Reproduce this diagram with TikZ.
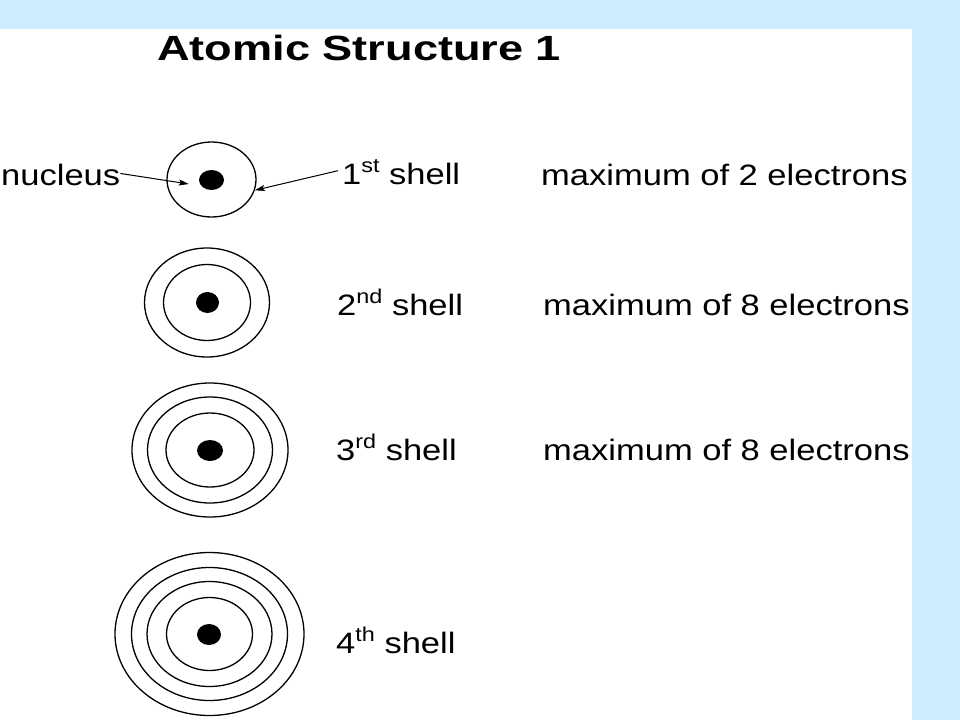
\documentclass[tikz,border=0pt]{standalone}
\usepackage{fontspec}
\usepackage{graphicx}
\setmainfont{Liberation Sans}
\usetikzlibrary{shapes.geometric,arrows.meta}
\definecolor{slideblue}{RGB}{204,236,255}
\newcommand{\bodytxt}[1]{{\fontsize{29.5}{29.5}\selectfont\scalebox{1.17}[1]{#1}}}
\newcommand{\ordsup}[1]{\raisebox{12pt}{\fontsize{20}{20}\selectfont #1}}
\begin{document}
\begin{tikzpicture}[x=1pt,y=-1pt,
  ring/.style={draw=black,ellipse,inner sep=0pt,line width=1.3pt,fill=none},
  nuc/.style={ellipse,fill=black,inner sep=0pt},
  lbl/.style={anchor=base west,inner sep=0pt,text=black},
  pointer/.style={draw=black,line width=1pt,-{Stealth[length=10pt,width=6pt,inset=2pt]}}]
\useasboundingbox (0,0) rectangle (960,720);
\fill[slideblue] (0,0) rectangle (960,720);
\fill[white] (0,29) rectangle (912,720);
% title
\node[lbl] (title) at (157,60.7) {\fontsize{35}{35}\selectfont\bfseries\scalebox{1.29}[1]{Atomic Structure 1}};
% atom 1
\node[ring,minimum width=89pt,minimum height=75pt] (s1) at (211.5,179.5) {};
\node[nuc,minimum width=25pt,minimum height=20pt] (n1) at (211.5,180) {};
% atom 2
\node[ring,minimum width=87pt,minimum height=76pt] (a2r1) at (207,302.5) {};
\node[ring,minimum width=125pt,minimum height=109pt] (a2r2) at (207,302.5) {};
\node[nuc,minimum width=23pt,minimum height=21pt] (n2) at (207.5,302.5) {};
% atom 3
\node[ring,minimum width=88pt,minimum height=74pt] (a3r1) at (210,450) {};
\node[ring,minimum width=125pt,minimum height=106pt] (a3r2) at (210,450) {};
\node[ring,minimum width=156pt,minimum height=134pt] (a3r3) at (210,450) {};
\node[nuc,minimum width=26pt,minimum height=21pt] (n3) at (210,450.5) {};
% atom 4
\node[ring,minimum width=86pt,minimum height=73pt] (a4r1) at (209.5,634) {};
\node[ring,minimum width=125pt,minimum height=105pt] (a4r2) at (209.5,634) {};
\node[ring,minimum width=156pt,minimum height=133pt] (a4r3) at (209.5,634) {};
\node[ring,minimum width=189pt,minimum height=163pt] (a4r4) at (209.5,634) {};
\node[nuc,minimum width=24pt,minimum height=21pt] (n4) at (209,634.5) {};
% labels
\node[lbl] (nuclab) at (1,185) {\bodytxt{nucleus}};
\node[lbl] (lab1) at (342,184) {\bodytxt{1\ordsup{st} shell}};
\node[lbl] (lab2) at (337,315) {\bodytxt{2\ordsup{nd} shell}};
\node[lbl] (lab3) at (336,460.5) {\bodytxt{3\ordsup{rd} shell}};
\node[lbl] (lab4) at (336,653) {\bodytxt{4\ordsup{th} shell}};
\node[lbl] (max1) at (541,185) {\bodytxt{maximum of 2 electrons}};
\node[lbl] (max2) at (543,315) {\bodytxt{maximum of 8 electrons}};
\node[lbl] (max3) at (543,460.5) {\bodytxt{maximum of 8 electrons}};
% pointers
\draw[pointer] ([yshift=1pt]nuclab.east) -- ([xshift=-10pt,yshift=-4pt]n1.west);
\draw[pointer] ([xshift=-4pt,yshift=1pt]lab1.west) -- (s1.-14);
\end{tikzpicture}
\end{document}
